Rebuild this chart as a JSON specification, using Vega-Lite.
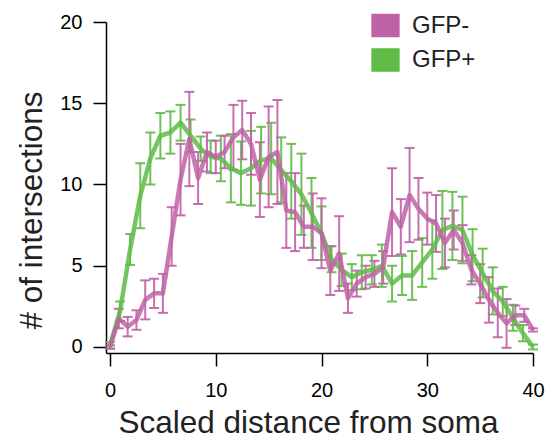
{
  "$schema": "https://vega.github.io/schema/vega-lite/v6.json",
  "width": 427,
  "height": 331,
  "autosize": {"type": "none"},
  "padding": {"left": 106, "top": 22, "right": 23, "bottom": 87},
  "background": "white",
  "config": {
    "view": {"stroke": null},
    "font": "Liberation Sans",
    "axis": {
      "grid": false,
      "domainColor": "black",
      "domainWidth": 1.5,
      "tickColor": "black",
      "tickWidth": 1.5,
      "tickSize": 13,
      "labelFont": "Liberation Sans",
      "labelFontSize": 20,
      "labelColor": "black",
      "titleFont": "Liberation Sans",
      "titleFontSize": 31.5,
      "titleFontWeight": "normal",
      "titleColor": "#222"
    }
  },
  "data": {
    "values": [
      {"g": "GFP+", "x": 0, "y": 0.1, "e": 0.2},
      {"g": "GFP+", "x": 0.95, "y": 2.2, "e": 0.6},
      {"g": "GFP+", "x": 1.9, "y": 6.0, "e": 0.95},
      {"g": "GFP+", "x": 2.86, "y": 9.3, "e": 2.0},
      {"g": "GFP+", "x": 3.81, "y": 11.6, "e": 1.6},
      {"g": "GFP+", "x": 4.76, "y": 13.0, "e": 1.4},
      {"g": "GFP+", "x": 5.71, "y": 13.2, "e": 1.3},
      {"g": "GFP+", "x": 6.67, "y": 13.8, "e": 1.1},
      {"g": "GFP+", "x": 7.62, "y": 13.0, "e": 1.0},
      {"g": "GFP+", "x": 8.57, "y": 12.2, "e": 0.75},
      {"g": "GFP+", "x": 9.52, "y": 11.7, "e": 1.0},
      {"g": "GFP+", "x": 10.48, "y": 11.6, "e": 1.4},
      {"g": "GFP+", "x": 11.43, "y": 11.0, "e": 2.1},
      {"g": "GFP+", "x": 12.38, "y": 10.7, "e": 1.95},
      {"g": "GFP+", "x": 13.33, "y": 11.0, "e": 2.3},
      {"g": "GFP+", "x": 14.29, "y": 11.5, "e": 2.05},
      {"g": "GFP+", "x": 15.24, "y": 11.6, "e": 2.2},
      {"g": "GFP+", "x": 16.19, "y": 10.9, "e": 2.0},
      {"g": "GFP+", "x": 17.14, "y": 10.2, "e": 2.3},
      {"g": "GFP+", "x": 18.1, "y": 9.4, "e": 2.5},
      {"g": "GFP+", "x": 19.05, "y": 8.25, "e": 2.15},
      {"g": "GFP+", "x": 20, "y": 7.0, "e": 1.65},
      {"g": "GFP+", "x": 20.95, "y": 5.4, "e": 0.8},
      {"g": "GFP+", "x": 21.9, "y": 4.75, "e": 1.0},
      {"g": "GFP+", "x": 22.86, "y": 4.3, "e": 0.8},
      {"g": "GFP+", "x": 23.81, "y": 4.6, "e": 1.05},
      {"g": "GFP+", "x": 24.76, "y": 4.75, "e": 0.9},
      {"g": "GFP+", "x": 25.71, "y": 5.0, "e": 1.3},
      {"g": "GFP+", "x": 26.67, "y": 3.9, "e": 1.1},
      {"g": "GFP+", "x": 27.62, "y": 4.4, "e": 1.2},
      {"g": "GFP+", "x": 28.57, "y": 4.4, "e": 1.5},
      {"g": "GFP+", "x": 29.52, "y": 5.2, "e": 1.5},
      {"g": "GFP+", "x": 30.48, "y": 6.0, "e": 1.8},
      {"g": "GFP+", "x": 31.43, "y": 7.2, "e": 2.4},
      {"g": "GFP+", "x": 32.38, "y": 7.45, "e": 2.1},
      {"g": "GFP+", "x": 33.33, "y": 7.2, "e": 2.05},
      {"g": "GFP+", "x": 34.29, "y": 5.65, "e": 1.6},
      {"g": "GFP+", "x": 35.24, "y": 4.55, "e": 1.5},
      {"g": "GFP+", "x": 36.19, "y": 3.45, "e": 1.45},
      {"g": "GFP+", "x": 37.14, "y": 2.8, "e": 0.9},
      {"g": "GFP+", "x": 38.1, "y": 1.8, "e": 0.8},
      {"g": "GFP+", "x": 39.05, "y": 0.85, "e": 0.5},
      {"g": "GFP+", "x": 40, "y": 0.0, "e": 0.15},
      {"g": "GFP-", "x": 0, "y": 0.0, "e": 0.1},
      {"g": "GFP-", "x": 0.83, "y": 1.75, "e": 0.6},
      {"g": "GFP-", "x": 1.67, "y": 1.25, "e": 0.6},
      {"g": "GFP-", "x": 2.5, "y": 1.66, "e": 0.6},
      {"g": "GFP-", "x": 3.33, "y": 2.9, "e": 1.2},
      {"g": "GFP-", "x": 4.17, "y": 3.3, "e": 0.9},
      {"g": "GFP-", "x": 5, "y": 3.3, "e": 1.2},
      {"g": "GFP-", "x": 5.83, "y": 6.8, "e": 1.8},
      {"g": "GFP-", "x": 6.67, "y": 10.3, "e": 2.2},
      {"g": "GFP-", "x": 7.5, "y": 12.8, "e": 2.9},
      {"g": "GFP-", "x": 8.33, "y": 10.4, "e": 1.6},
      {"g": "GFP-", "x": 9.17, "y": 12.0, "e": 1.2},
      {"g": "GFP-", "x": 10, "y": 11.7, "e": 1.0},
      {"g": "GFP-", "x": 10.83, "y": 12.0, "e": 1.0},
      {"g": "GFP-", "x": 11.67, "y": 12.9, "e": 2.0},
      {"g": "GFP-", "x": 12.5, "y": 13.35, "e": 1.8},
      {"g": "GFP-", "x": 13.33, "y": 12.5, "e": 1.9},
      {"g": "GFP-", "x": 14.17, "y": 10.3, "e": 2.3},
      {"g": "GFP-", "x": 15, "y": 11.7, "e": 3.1},
      {"g": "GFP-", "x": 15.83, "y": 12.0, "e": 3.2},
      {"g": "GFP-", "x": 16.67, "y": 8.4, "e": 2.3},
      {"g": "GFP-", "x": 17.5, "y": 8.3, "e": 2.4},
      {"g": "GFP-", "x": 18.33, "y": 7.4, "e": 1.3},
      {"g": "GFP-", "x": 19.17, "y": 7.4, "e": 2.05},
      {"g": "GFP-", "x": 20, "y": 7.0, "e": 2.15},
      {"g": "GFP-", "x": 20.83, "y": 4.7, "e": 1.5},
      {"g": "GFP-", "x": 21.67, "y": 5.75, "e": 2.3},
      {"g": "GFP-", "x": 22.5, "y": 3.0, "e": 0.9},
      {"g": "GFP-", "x": 23.33, "y": 3.9, "e": 0.8},
      {"g": "GFP-", "x": 24.17, "y": 4.3, "e": 0.7},
      {"g": "GFP-", "x": 25, "y": 4.5, "e": 0.8},
      {"g": "GFP-", "x": 25.83, "y": 4.9, "e": 1.0},
      {"g": "GFP-", "x": 26.67, "y": 8.3, "e": 2.7},
      {"g": "GFP-", "x": 27.5, "y": 7.4, "e": 1.7},
      {"g": "GFP-", "x": 28.33, "y": 9.35, "e": 2.9},
      {"g": "GFP-", "x": 29.17, "y": 8.5, "e": 1.9},
      {"g": "GFP-", "x": 30, "y": 7.9, "e": 1.6},
      {"g": "GFP-", "x": 30.83, "y": 7.6, "e": 1.75},
      {"g": "GFP-", "x": 31.67, "y": 6.4, "e": 1.5},
      {"g": "GFP-", "x": 32.5, "y": 7.2, "e": 1.2},
      {"g": "GFP-", "x": 33.33, "y": 6.4, "e": 1.1},
      {"g": "GFP-", "x": 34.17, "y": 4.75, "e": 0.9},
      {"g": "GFP-", "x": 35, "y": 3.9, "e": 1.2},
      {"g": "GFP-", "x": 35.83, "y": 2.9, "e": 1.4},
      {"g": "GFP-", "x": 36.67, "y": 2.1, "e": 1.5},
      {"g": "GFP-", "x": 37.5, "y": 1.45, "e": 1.5},
      {"g": "GFP-", "x": 38.33, "y": 1.95, "e": 0.6},
      {"g": "GFP-", "x": 39.17, "y": 1.95, "e": 0.4},
      {"g": "GFP-", "x": 40, "y": 1.05, "e": 0.1}
    ]
  },
  "encoding": {
    "x": {
      "field": "x",
      "type": "quantitative",
      "scale": {"domain": [-0.38, 40], "nice": false, "zero": false},
      "axis": {
        "values": [0, 10, 20, 30, 40],
        "labelPadding": 14,
        "labelFlush": false,
        "title": "Scaled distance from soma",
        "titleX": 202,
        "titleY": 79,
        "titleAlign": "center",
        "titleBaseline": "alphabetic"
      }
    },
    "y": {
      "field": "y",
      "type": "quantitative",
      "scale": {"domain": [-0.37, 20], "nice": false, "zero": false},
      "axis": {
        "values": [0, 5, 10, 15, 20],
        "labelPadding": 11,
        "labelFlush": false,
        "title": "# of intersections",
        "titleX": -65,
        "titleY": 188,
        "titleAngle": 270,
        "titleAlign": "center",
        "titleBaseline": "alphabetic"
      }
    }
  },
  "layer": [
    {
      "mark": {"type": "square", "filled": true, "stroke": "black", "strokeWidth": 1.3, "opacity": 0},
      "encoding": {
        "color": {
          "field": "g",
          "type": "nominal",
          "scale": {"domain": ["GFP-", "GFP+"], "range": ["#c061a6", "#5fbb46"]},
          "legend": {
            "orient": "none",
            "legendX": 265,
            "legendY": -11,
            "title": null,
            "padding": 0,
            "symbolType": "M-1,-0.815L1,-0.815L1,0.815L-1,0.815Z",
            "symbolSize": 729,
            "symbolStrokeWidth": 1.3,
            "symbolStrokeColor": "black",
            "symbolOpacity": 1,
            "labelFont": "Liberation Sans",
            "labelFontSize": 24,
            "labelColor": "#222",
            "labelOffset": 12,
            "rowPadding": 5.5,
            "encode": {
              "symbols": {
                "update": {
                  "fill": {"scale": "color", "field": "value"},
                  "opacity": {"value": 1},
                  "strokeWidth": {"value": 1.3}
                }
              }
            }
          }
        }
      }
    },
    {
      "mark": {"type": "errorbar", "ticks": {"size": 10, "thickness": 2}, "thickness": 2, "opacity": 0.9},
      "encoding": {
        "yError": {"field": "e"},
        "color": {"field": "g", "type": "nominal"}
      }
    },
    {
      "mark": {"type": "line", "strokeWidth": 4.5, "opacity": 0.85, "strokeJoin": "round"},
      "encoding": {
        "color": {"field": "g", "type": "nominal"}
      }
    }
  ]
}
